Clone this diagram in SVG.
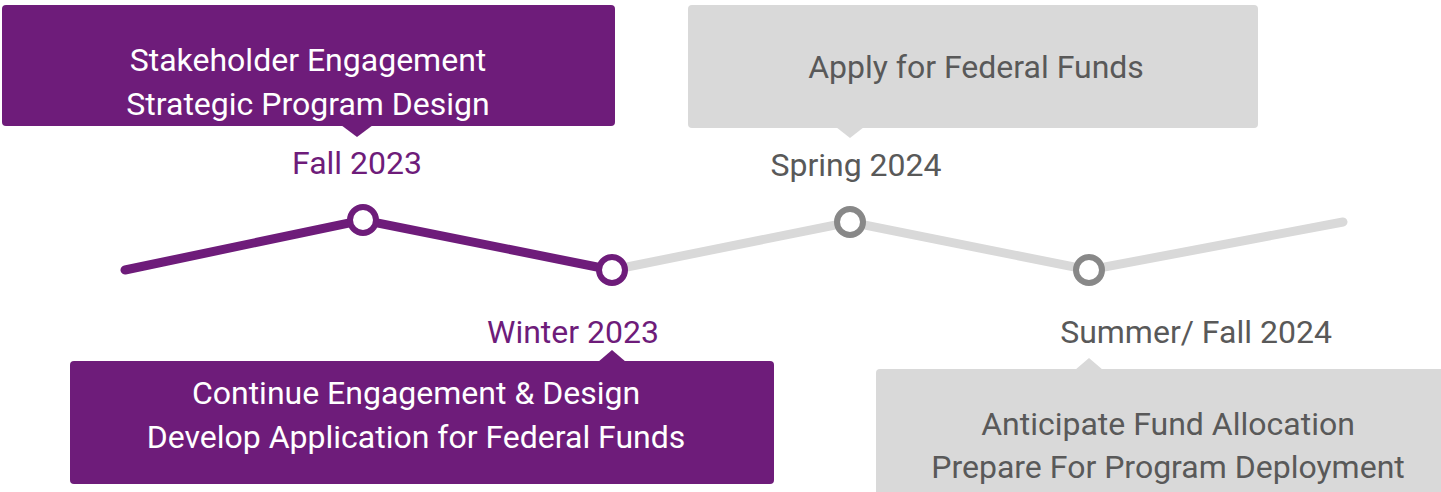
<svg xmlns="http://www.w3.org/2000/svg" width="1441" height="492" viewBox="0 0 1441 492">
<style>
text{font-family:Roboto,"Liberation Sans",sans-serif;font-size:32px;text-anchor:middle}
.p{fill:#6E1C7A}
.g{fill:#D9D9D9}
.tw{fill:#FFFFFF}
.tg{fill:#595959}
.lp{stroke:#6E1C7A;stroke-width:9;stroke-linecap:round;fill:none}
.lg{stroke:#D9D9D9;stroke-width:9;stroke-linecap:round;fill:none}
.np{fill:#FFFFFF;stroke:#6E1C7A;stroke-width:6}
.ng{fill:#FFFFFF;stroke:#888888;stroke-width:6}
</style>
<g id="connectors">
<polyline class="lg" points="612,270 850,222 1089,270 1343,222"/>
<polyline class="lp" points="125,270 363,220 612,270"/>
</g>
<g id="node-fall2023">
<rect class="p" x="2" y="5" width="613" height="121" rx="4"/>
<polygon class="p" points="341,125 373,125 357,137"/>
<text class="tw" x="308" y="71">Stakeholder Engagement</text>
<text class="tw" x="308" y="115">Strategic Program Design</text>
<text class="p" x="357" y="174">Fall 2023</text>
<circle class="np" cx="363" cy="220" r="13"/>
</g>
<g id="node-winter2023">
<text class="p" x="573" y="343">Winter 2023</text>
<polygon class="p" points="598,362 626,362 612,350"/>
<rect class="p" x="70" y="361" width="704" height="123" rx="4"/>
<text class="tw" x="416" y="404">Continue Engagement &amp; Design</text>
<text class="tw" x="416" y="448">Develop Application for Federal Funds</text>
<circle class="np" cx="612" cy="270" r="13"/>
</g>
<g id="node-spring2024">
<rect class="g" x="688" y="5" width="570" height="123" rx="4"/>
<polygon class="g" points="836,127 864,127 850,138"/>
<text class="tg" x="976" y="78">Apply for Federal Funds</text>
<text class="tg" x="856" y="176">Spring 2024</text>
<circle class="ng" cx="850" cy="222" r="13"/>
</g>
<g id="node-summerfall2024">
<text class="tg" x="1196" y="343">Summer/ Fall 2024</text>
<polygon class="g" points="1075,370 1103,370 1089,358"/>
<rect class="g" x="876" y="369" width="570" height="127" rx="4"/>
<text class="tg" x="1168" y="435">Anticipate Fund Allocation</text>
<text class="tg" x="1168" y="478">Prepare For Program Deployment</text>
<circle class="ng" cx="1089" cy="270" r="13"/>
</g>
</svg>
